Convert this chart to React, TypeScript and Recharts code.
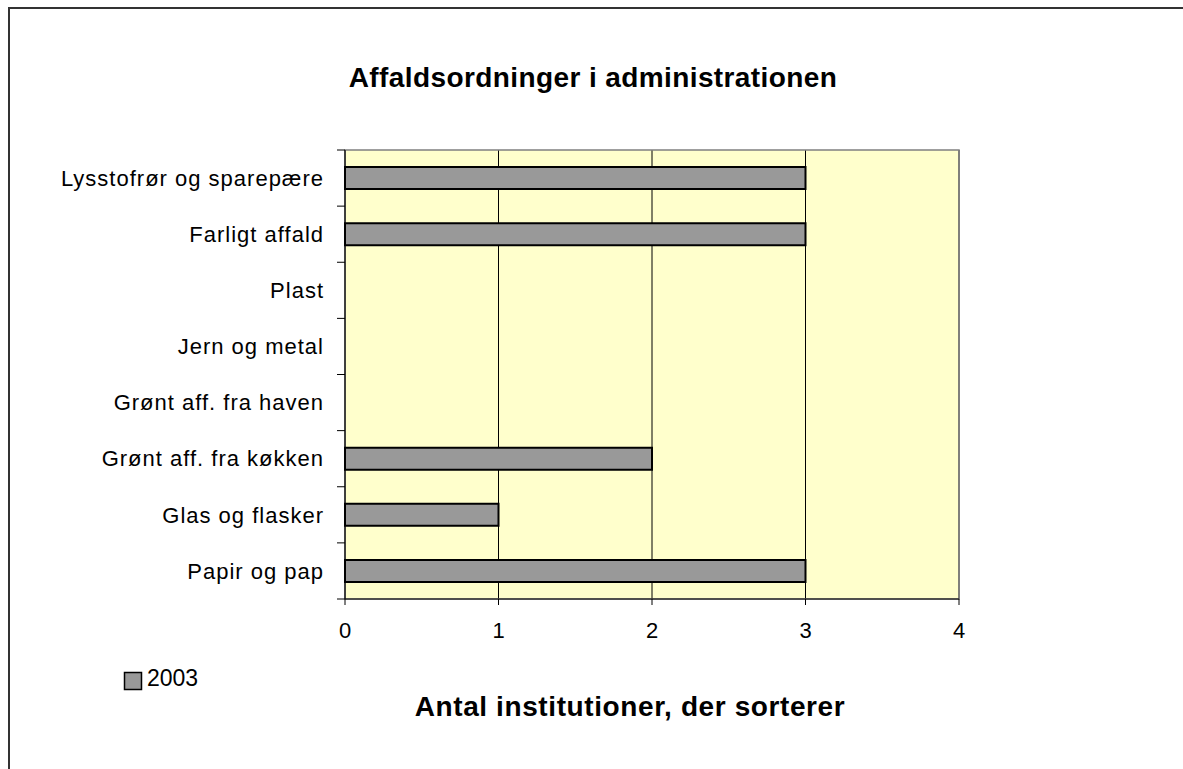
import React from 'react';
import { BarChart, Bar, XAxis, YAxis, CartesianGrid, ReferenceArea } from 'recharts';

const categories = [
  'Lysstofrør og sparepære',
  'Farligt affald',
  'Plast',
  'Jern og metal',
  'Grønt aff. fra haven',
  'Grønt aff. fra køkken',
  'Glas og flasker',
  'Papir og pap',
];
const values2003 = [3, 3, 0, 0, 0, 2, 1, 3];
const xTicks = [0, 1, 2, 3, 4];

const seriesName = '2003';
const title = 'Affaldsordninger i administrationen';
const xTitle = 'Antal institutioner, der sorterer';

const data = categories.map((name, i) => ({ name, v2003: values2003[i] }));

const font = '"Liberation Sans", Arial, sans-serif';

// category label plus the small tick marks that sit between the bands
const CategoryTick = (props: any) => {
  const { x, y, payload, index, visibleTicksCount } = props;
  const half = payload.offset || 0;
  return (
    <g>
      <text x={x} y={y} dy="0.355em" textAnchor="end" fill="#000" fontSize={22} fontFamily={font} letterSpacing={1}>
        {payload.value}
      </text>
      <line x1={x + 13} x2={x + 21} y1={y - half} y2={y - half} stroke="#000" />
      {index === visibleTicksCount - 1 && (
        <line x1={x + 13} x2={x + 21} y1={y + half} y2={y + half} stroke="#000" />
      )}
    </g>
  );
};

const App = () => {
  return (
    <div style={{ position: 'relative', width: 1183, height: 769, overflow: 'hidden', fontFamily: font }}>
      <style>{'html,body{margin:0;overflow:hidden;}'}</style>
      <BarChart
        width={1183}
        height={769}
        data={data}
        layout="vertical"
        margin={{ top: 150, right: 224, bottom: 130, left: 0 }}
        style={{ position: 'absolute', left: 0, top: 0 }}
      >
        <CartesianGrid horizontal={false} fill="#FFFFCC" stroke="#000" fillOpacity={1} />
        <XAxis
          type="number"
          domain={[0, 4]}
          ticks={xTicks}
          height={40}
          tickSize={6}
          tickMargin={17}
          axisLine={{ stroke: '#000' }}
          tickLine={{ stroke: '#000' }}
          tick={{ fill: '#000', fontSize: 22, fontFamily: font }}
        />
        <YAxis
          type="category"
          dataKey="name"
          width={345}
          tickSize={0}
          tickMargin={21}
          axisLine={{ stroke: '#000' }}
          tickLine={false}
          interval={0}
          tick={<CategoryTick />}
        />
        <ReferenceArea x1={0} x2={4} fill="none" stroke="#808080" strokeWidth={1.5} />
        <Bar
          dataKey="v2003"
          name={seriesName}
          barSize={22}
          fill="#999999"
          stroke="#000"
          strokeWidth={2}
          isAnimationActive={false}
        />
      </BarChart>
      <svg width={1183} height={769} style={{ position: 'absolute', left: 0, top: 0, pointerEvents: 'none' }}>
        {/* outer frame: only its top and left edges fall inside the picture */}
        <line x1={8} y1={8} x2={1183} y2={8} stroke="#333" strokeWidth={2} />
        <line x1={9} y1={7} x2={9} y2={769} stroke="#333" strokeWidth={2} />
        <text x={593} y={87} textAnchor="middle" fontSize={28} fontWeight="bold" fontFamily={font} letterSpacing={0.4} fill="#000">
          {title}
        </text>
        <text x={630} y={716} textAnchor="middle" fontSize={28} fontWeight="bold" fontFamily={font} letterSpacing={0.6} fill="#000">
          {xTitle}
        </text>
        <rect x={124.5} y={672.5} width={17} height={17} fill="#999999" stroke="#000" strokeWidth={1.5} />
        <text x={147} y={686} fontSize={23} fontFamily={font} fill="#000">
          {seriesName}
        </text>
      </svg>
    </div>
  );
};

export default App;
